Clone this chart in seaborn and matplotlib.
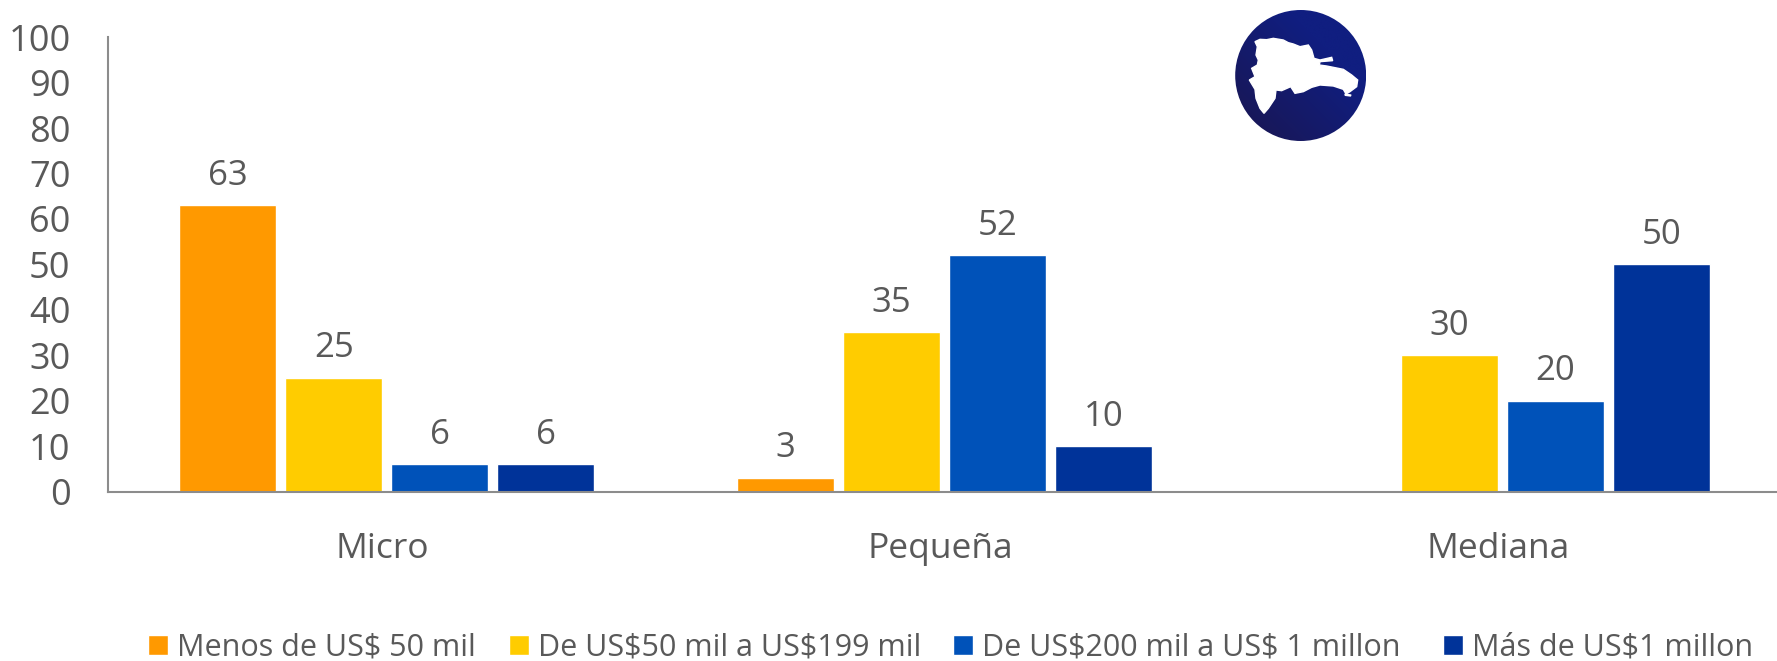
import numpy as np
import pandas as pd
import matplotlib
matplotlib.use("Agg")
import matplotlib.pyplot as plt
import seaborn as sns
from matplotlib.patches import Circle, Polygon
from matplotlib.colors import LinearSegmentedColormap
from matplotlib.transforms import ScaledTranslation

# Data
categories = ["Micro", "Pequeña", "Mediana"]
menos_50 = [63, 3, np.nan]
de_50_199 = [25, 35, 30]
de_200_1m = [6, 52, 20]
mas_1m = [6, 10, 50]
series_names = [
    r"Menos de US\$ 50 mil",
    r"De US\$50 mil a US\$199 mil",
    r"De US\$200 mil a US\$ 1 millon",
    r"Más de US\$1 millon",
]
colors = ["#FF9900", "#FFCC00", "#0052B9", "#003399"]
y_ticks = list(range(0, 101, 10))

# outline of the island for the logo, in zoomed logo pixels
map_outline = [
    (45, 35), (60, 28), (80, 29), (100, 25), (130, 30), (145, 38), (160, 42), (180, 50),
    (205, 45), (215, 60), (222, 85), (240, 90), (275, 82), (278, 92), (240, 95), (238, 105),
    (260, 108), (280, 112), (310, 118), (335, 135), (353, 150), (350, 170), (330, 185),
    (318, 192), (310, 178), (280, 168), (240, 165), (215, 172), (190, 185), (165, 190),
    (152, 170), (125, 182), (108, 180), (105, 205), (85, 235), (72, 250), (60, 235),
    (48, 205), (45, 178), (28, 150), (45, 140), (35, 115), (52, 105), (55, 90), (48, 75),
    (52, 50),
]
map_islet = [(315, 192), (332, 195), (332, 198), (316, 196)]

W, H = 1777, 661
GREY = "#595959"

sns.set_theme(style="white")
plt.rcParams["font.family"] = ["Open Sans", "DejaVu Sans"]

df = pd.DataFrame({
    "categoria": np.tile(categories, 4),
    "serie": np.repeat(series_names, 3),
    "valor": menos_50 + de_50_199 + de_200_1m + mas_1m,
})

fig = plt.figure(figsize=(W / 100, H / 100), dpi=100)
ax = fig.add_axes([108 / W, 1 - 491.5 / H, (W - 108) / W, (491.5 - 37.2) / H])

sns.barplot(
    data=df, x="categoria", y="valor", hue="serie",
    hue_order=series_names, palette=colors, order=categories,
    width=0.76, gap=0.085, saturation=1, ax=ax,
)

ax.set_xlim(-0.5, 2.492)
ax.set_ylim(0, 100)
ax.set_yticks(y_ticks)
ax.set_xlabel("")
ax.set_ylabel("")
ax.tick_params(axis="y", labelsize=26, labelcolor=GREY, length=0, pad=27)
ax.tick_params(axis="x", labelsize=25.5, labelcolor=GREY, length=0, pad=29)
for lab in ax.get_yticklabels():
    lab.set_verticalalignment("center_baseline")
shift = ScaledTranslation(-4.5 / 100, 0, fig.dpi_scale_trans)
for lab in ax.get_xticklabels():
    lab.set_transform(lab.get_transform() + shift)

for side in ["top", "right"]:
    ax.spines[side].set_visible(False)
for side in ["left", "bottom"]:
    ax.spines[side].set_color("#8C8C8C")
    ax.spines[side].set_linewidth(1.5)

for cont in ax.containers:
    ax.bar_label(cont, fmt="%.0f", padding=9, fontsize=25, color=GREY)

# the legend entries are not evenly spaced in the reference, so one legend each
handles, labels = ax.get_legend_handles_labels()
ax.get_legend().remove()
legend_x = [148, 509, 953, 1443]
for h, l, x in zip(handles, labels, legend_x):
    fig.legend(
        [h], [l], loc="center left", bbox_to_anchor=(x / W, 1 - 648 / H),
        frameon=False, fontsize=22, handlelength=0.65, handleheight=0.65,
        handletextpad=0.3, borderpad=0, borderaxespad=0, labelcolor=GREY,
    )

# logo drawn on a pixel-coordinate overlay
over = fig.add_axes([0, 0, 1, 1], facecolor="none")
over.set_xlim(0, W)
over.set_ylim(H, 0)
over.axis("off")
cx, cy, r = 1300.7, 75.5, 65.5
cmap = LinearSegmentedColormap.from_list("logo", ["#1A1650", "#101E80"])
gx, gy = np.meshgrid(np.linspace(0, 1, 200), np.linspace(0, 1, 200))
grad = np.clip((gx + (1 - gy)) / 1.4, 0, 1)
im = over.imshow(grad, cmap=cmap, extent=[cx - r, cx + r, cy + r, cy - r], aspect="auto", zorder=3)
circle = Circle((cx, cy), r, transform=over.transData, facecolor="none", edgecolor="none")
over.add_patch(circle)
im.set_clip_path(circle)
over.set_xlim(0, W)
over.set_ylim(H, 0)
for outline in [map_outline, map_islet]:
    pts = [(1240 + px / 3, 30 + py / 3) for px, py in outline]
    over.add_patch(Polygon(pts, closed=True, facecolor="white", edgecolor="white", linewidth=1, zorder=4))

fig.savefig("out.png", dpi=100)
